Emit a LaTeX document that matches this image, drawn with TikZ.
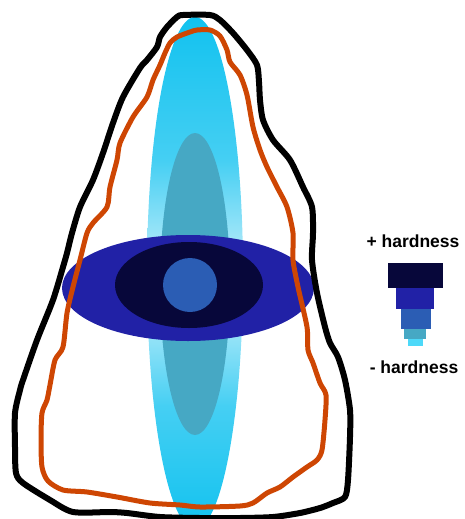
\documentclass[tikz,border=0pt]{standalone}
\usepackage{fontspec}
\setmainfont{Liberation Sans}
\definecolor{cyanA}{HTML}{12C2EF}
\definecolor{cyanB}{HTML}{45CFF3}
\definecolor{cyanPale}{HTML}{AEE9F9}
\definecolor{tealC}{HTML}{46A8C4}
\definecolor{royal}{HTML}{2121A6}
\definecolor{navy}{HTML}{07073A}
\definecolor{midblue}{HTML}{2B5DB4}
\definecolor{lightcyan}{HTML}{4DD9F9}
\definecolor{rust}{HTML}{CE4603}
\pgfdeclareverticalshading{cyanfade}{100bp}{%
  color(0bp)=(cyanA); color(25bp)=(cyanA); color(37bp)=(cyanB);
  color(46bp)=(cyanPale); color(52bp)=(cyanPale); color(61bp)=(cyanB);
  color(75bp)=(cyanA); color(100bp)=(cyanA)}
\begin{document}
\begin{tikzpicture}[x=1pt,y=-1pt,
  outline/.style={line width=#1, line join=round, line cap=round},
  legendtext/.style={font=\fontsize{17.5}{20}\selectfont\bfseries, anchor=base, inner sep=0pt},
  legendbar/.style={draw=none}]
\useasboundingbox (0,0) rectangle (464,519);
\clip (0,0) rectangle (464,519);

% vertical zones
\shade[shading=cyanfade] (195,273) ellipse [x radius=48, y radius=256];
\fill[tealC] (195,284) ellipse [x radius=35, y radius=151];

% horizontal zones
\fill[royal] (188,288) ellipse [x radius=126, y radius=53];
\fill[navy] (189,285) ellipse [x radius=74, y radius=43];
\fill[midblue] (190,285) circle [radius=27];

% outer contour
\draw[outline=6pt, black] plot[smooth cycle, tension=0.45] coordinates {
  (183,15) (210,15) (220,20) (233,33) (247,50) (257,65) (259,82) (260,100)
  (263,120) (273,140) (290,160) (303,187) (312,207) (313,233) (312,260)
  (317,293) (325,327) (330,343) (338,357) (345,380) (350,410) (350,437)
  (348,480) (345,497) (333,503) (320,508) (300,513) (273,517) (240,518)
  (200,518) (160,517) (127,513) (110,512) (73,512) (50,500) (23,483)
  (16,473) (15,447) (15,413) (20,390) (23,380) (37,340) (53,300) (63,267)
  (67,253) (72,233) (80,207) (93,180) (103,153) (113,123) (123,97)
  (140,68) (147,60) (157,47) (160,37) (167,27) (177,17)};

% inner contour
\draw[outline=5pt, rust] plot[smooth cycle, tension=0.45] coordinates {
  (190,32) (197,30) (210,30) (220,36) (227,50) (230,62) (240,75) (247,95)
  (253,127) (260,150) (267,167) (277,187) (287,207) (293,233) (293,260)
  (298,287) (307,327) (308,350) (313,363) (320,383) (326,395) (325,420)
  (322,450) (317,460) (307,467) (293,477) (280,487) (267,493) (253,503)
  (240,506) (200,507) (180,505) (150,503) (117,497) (87,492) (63,490)
  (48,481) (42,467) (41,440) (42,413) (47,400) (50,385) (55,360) (63,347)
  (67,313) (73,287) (80,260) (87,233) (93,223) (107,207) (110,187)
  (117,160) (120,143) (133,117) (147,97) (153,80) (160,65) (165,53)
  (170,43) (177,37)};

% hardness scale
\node[legendtext] (hmore) at (413,247) {+ hardness};
\fill[legendbar, navy] (388,263) rectangle (443,288);
\fill[legendbar, royal] (396,288) rectangle (434,309);
\fill[legendbar, midblue] (401,309) rectangle (431,329);
\fill[legendbar, tealC] (404,329) rectangle (426,339);
\fill[legendbar, lightcyan] (408,339) rectangle (423,346);
\node[legendtext] (hless) at (414,373) {- hardness};
\end{tikzpicture}
\end{document}
